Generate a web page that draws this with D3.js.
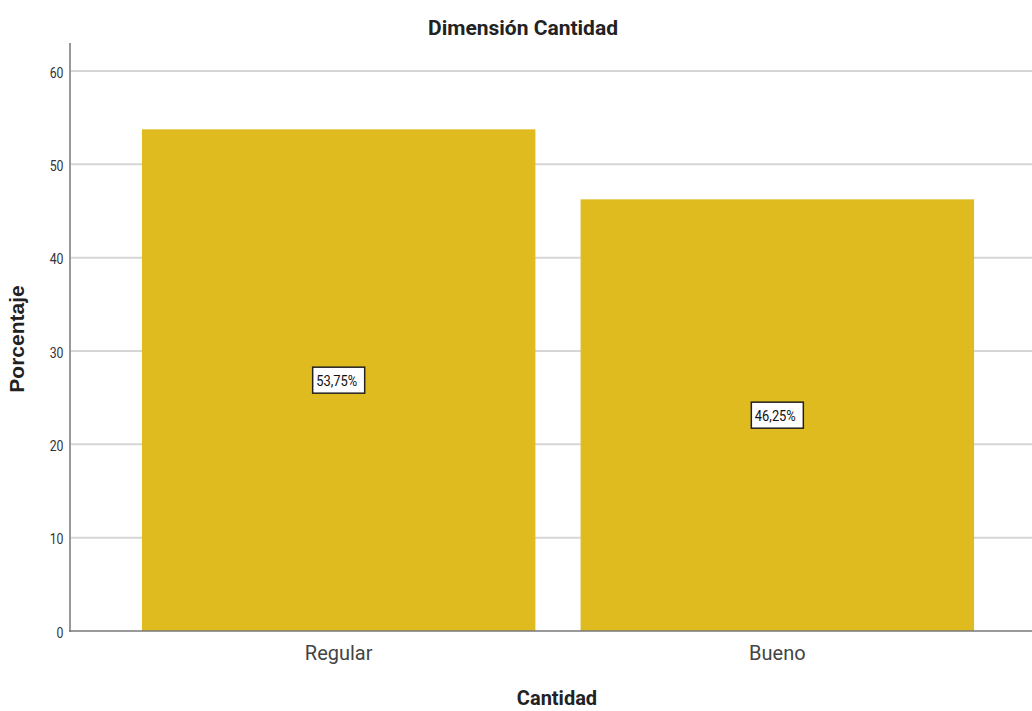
<!DOCTYPE html>
<html>
<head>
<meta charset="utf-8">
<script src="https://cdn.jsdelivr.net/npm/d3@7"></script>
<style>
  body { margin: 0; background: #fff; }
  svg { display: block; }
</style>
</head>
<body>
<svg id="chart" width="1032" height="711"></svg>
<script>
// Porcentaje por categoría de la dimensión Cantidad
const categories = ["Regular", "Bueno"];
const percentages = [53.75, 46.25];
const valueLabels = ["53,75%", "46,25%"];
const yTicks = [0, 10, 20, 30, 40, 50, 60];

const svg = d3.select("#chart");
const W = 1032, H = 711;
const plotLeft = 70, plotRight = 1046, plotTop = 43, plotBottom = 631;
const narrowFont = "Roboto, 'Liberation Sans', sans-serif";

const x = d3.scaleBand()
  .domain(categories)
  .range([plotLeft, plotRight])
  .paddingInner(0.103)
  .paddingOuter(0.164);

const y = d3.scaleLinear()
  .domain([0, 63])
  .range([plotBottom, plotBottom - 63 * 9.333]);

// horizontal gridlines
svg.append("g")
  .selectAll("line")
  .data(yTicks.filter(d => d > 0))
  .join("line")
  .attr("x1", plotLeft)
  .attr("x2", W)
  .attr("y1", d => y(d))
  .attr("y2", d => y(d))
  .attr("stroke", "#d6d6d6")
  .attr("stroke-width", 2);

// bars
svg.append("g")
  .selectAll("rect")
  .data(categories)
  .join("rect")
  .attr("x", d => x(d))
  .attr("width", x.bandwidth())
  .attr("y", (d, i) => y(percentages[i]))
  .attr("height", (d, i) => y(0) - y(percentages[i]))
  .attr("fill", "#e0bb20");

// y axis (condensed tick numbers)
const yAxis = d3.axisLeft(y).tickValues(yTicks).tickSize(0).tickPadding(8);
const gy = svg.append("g")
  .attr("transform", `translate(${plotLeft},0)`)
  .call(yAxis);
gy.select(".domain").remove();
gy.selectAll("text")
  .attr("font-family", narrowFont)
  .attr("font-size", 15)
  .attr("dy", "0.42em")
  .attr("transform", "scale(0.82,1)")
  .attr("fill", "#333");

svg.append("line")
  .attr("x1", plotLeft).attr("x2", plotLeft)
  .attr("y1", plotTop).attr("y2", plotBottom + 1)
  .attr("stroke", "#999").attr("stroke-width", 2);

// x axis baseline and category labels
svg.append("line")
  .attr("x1", plotLeft - 1).attr("x2", W)
  .attr("y1", plotBottom).attr("y2", plotBottom)
  .attr("stroke", "#777").attr("stroke-width", 1.5);

const xAxis = d3.axisBottom(x).tickSize(0).tickPadding(15);
const gx = svg.append("g")
  .attr("transform", `translate(0,${plotBottom})`)
  .call(xAxis);
gx.select(".domain").remove();
gx.selectAll("text")
  .attr("font-family", narrowFont)
  .attr("font-size", 20)
  .attr("fill", "#444");

// value labels in boxes at the middle of each bar
const lab = svg.append("g")
  .selectAll("g")
  .data(categories)
  .join("g")
  .attr("transform", (d, i) => `translate(${x(d) + x.bandwidth() / 2},${y(percentages[i] / 2)})`);

lab.append("rect")
  .attr("x", -26).attr("y", -13)
  .attr("width", 52).attr("height", 26)
  .attr("fill", "#fff")
  .attr("stroke", "#222")
  .attr("stroke-width", 1.5);

lab.append("text")
  .attr("text-anchor", "middle")
  .attr("dy", "0.36em")
  .attr("transform", "translate(-2,0) scale(0.86,1)")
  .attr("font-family", narrowFont)
  .attr("font-size", 15)
  .attr("fill", "#111")
  .text((d, i) => valueLabels[i]);

// titles
svg.append("text")
  .attr("x", 523).attr("y", 35)
  .attr("text-anchor", "middle")
  .attr("font-family", "Roboto, 'Liberation Sans', sans-serif")
  .attr("font-weight", "bold")
  .attr("font-size", 21)
  .attr("fill", "#222")
  .text("Dimensión Cantidad");

svg.append("text")
  .attr("x", 557).attr("y", 705)
  .attr("text-anchor", "middle")
  .attr("font-family", "Roboto, 'Liberation Sans', sans-serif")
  .attr("font-weight", "bold")
  .attr("font-size", 20)
  .attr("fill", "#222")
  .text("Cantidad");

svg.append("text")
  .attr("transform", "translate(24,339) rotate(-90)")
  .attr("text-anchor", "middle")
  .attr("font-family", "'Liberation Sans', Arial, sans-serif")
  .attr("font-weight", "bold")
  .attr("font-size", 21)
  .attr("fill", "#222")
  .text("Porcentaje");
</script>
</body>
</html>
